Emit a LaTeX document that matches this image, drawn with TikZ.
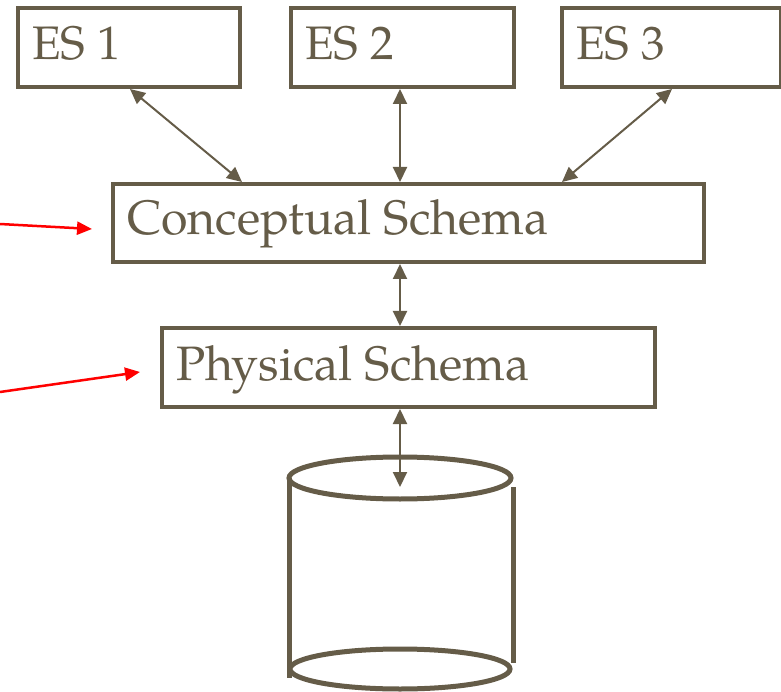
\documentclass[tikz,border=0pt]{standalone}
\usepackage{fontspec}
\setmainfont{TeX Gyre Pagella}
\usetikzlibrary{arrows.meta}
\definecolor{ink}{RGB}{101,92,72}
\tikzset{
  box/.style={draw=ink, line width=4pt, rectangle, inner sep=0pt},
  lbl/.style={anchor=base west, inner sep=0pt, text=ink, font=\fontsize{48.3}{52}\selectfont},
  eslbl/.style={anchor=base west, inner sep=0pt, text=ink, font=\fontsize{47}{52}\selectfont},
  dbl/.style={draw=ink, line width=2pt, {Triangle[length=15pt,width=14pt]}-{Triangle[length=15pt,width=14pt]}},
  redarrow/.style={draw=red, line width=2.5pt, -{Triangle[length=15pt,width=13pt]}},
  cyl/.style={draw=ink, line width=5pt}
}
\begin{document}
\begin{tikzpicture}[x=1pt, y=-1pt]
\useasboundingbox (0,0) rectangle (781,692);
% boxes (line centres)
\node[box, minimum width=222pt, minimum height=79pt] (es1) at (129,47.5) {};
\node[box, minimum width=223pt, minimum height=79pt] (es2) at (402.5,47.5) {};
\node[box, minimum width=219pt, minimum height=79pt] (es3) at (671.5,47.5) {};
\node[box, minimum width=591pt, minimum height=78pt] (conc) at (408.5,223) {};
\node[box, minimum width=493pt, minimum height=79pt] (phys) at (408.5,367.5) {};
% labels
\node[eslbl] (t1) at (32,60) {ES 1};
\node[eslbl] (t2) at (305,60) {ES 2};
\node[eslbl] (t3) at (576,60) {ES 3};
\node[lbl] (tc) at (127,235) {Conceptual Schema};
\node[lbl] (tp) at (176,380) {Physical Schema};
% database cylinder
\draw[cyl] (400,478) ellipse [x radius=111, y radius=21];
\draw[cyl] (400,669) ellipse [x radius=110, y radius=20];
\draw[cyl] (289,478) -- (289,678);
\draw[cyl] (513,487) -- (513,663);
\coordinate (db) at (400,487);
% connectors
\draw[dbl] ([xshift=1pt]es1.south) -- ([xshift=-166.5pt]conc.north);
\draw[dbl] ([xshift=-2.5pt]es2.south) -- ([xshift=-8.5pt]conc.north);
\draw[dbl] ([xshift=0.5pt]es3.south) -- ([xshift=153.5pt]conc.north);
\draw[dbl] ([xshift=-8.5pt]conc.south) -- ([xshift=-8.5pt]phys.north);
\draw[dbl] ([xshift=-8.5pt]phys.south) -- (db);
% red arrows
\coordinate (r1) at (0,224);
\coordinate (r2) at (0,392);
\draw[redarrow] (r1) -- ([shift={(-19pt,-6pt)}]conc.west);
\draw[redarrow] (r2) -- ([shift={(-20pt,-4.5pt)}]phys.west);
\end{tikzpicture}
\end{document}
